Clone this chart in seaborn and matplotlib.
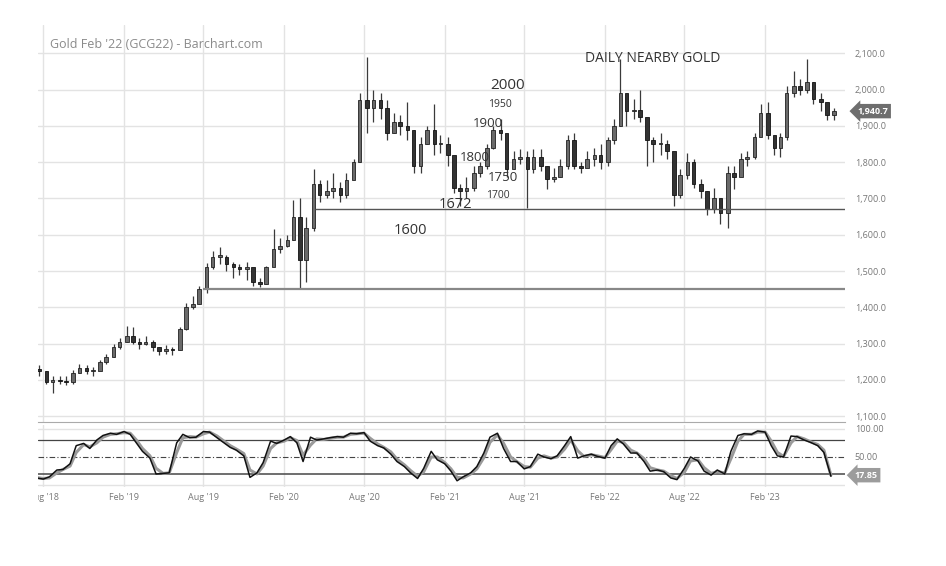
import matplotlib
matplotlib.use("Agg")
import matplotlib.pyplot as plt
import matplotlib.dates as mdates
import numpy as np
import pandas as pd
import seaborn as sns
from matplotlib.transforms import Bbox, TransformedBbox

# semi-monthly bars (1st / 15th of each month)
dates = pd.date_range("2018-07-15", "2023-07-01", freq="SMS")
first_open = 1230

close = [
    1225, 1195, 1200, 1198, 1195, 1220, 1232, 1225, 1225, 1248, 1262,
    1290, 1305, 1320, 1305, 1300, 1305, 1290, 1280, 1285, 1282, 1340, 1400,
    1410, 1450, 1510, 1540, 1540, 1520, 1510, 1505, 1510, 1470, 1465, 1510,
    1560, 1570, 1585, 1650, 1530, 1620, 1740, 1710, 1720, 1730, 1710, 1750,
    1800, 1970, 1950, 1970, 1950, 1880, 1910, 1900, 1890, 1790, 1850, 1890,
    1850, 1850, 1820, 1730, 1720, 1730, 1770, 1790, 1840, 1890, 1880, 1780,
    1810, 1815, 1780, 1815, 1790, 1755, 1760, 1790, 1860, 1790, 1785, 1810,
    1820, 1800, 1860, 1900, 1990, 1940, 1945, 1925, 1860, 1850, 1850, 1830,
    1710, 1765, 1800, 1740, 1720, 1670, 1700, 1660, 1770, 1760, 1810, 1815,
    1870, 1935, 1875, 1840, 1870, 1990, 2010, 2000, 2020, 1975, 1965, 1930,
    1940.7,
]
high = [
    1240, 1225, 1212, 1212, 1210, 1228, 1245, 1242, 1235, 1255, 1272,
    1300, 1315, 1348, 1345, 1315, 1320, 1310, 1292, 1295, 1292, 1345, 1412,
    1430, 1460, 1522, 1555, 1565, 1545, 1525, 1520, 1525, 1485, 1480, 1515,
    1615, 1590, 1600, 1695, 1700, 1650, 1780, 1750, 1750, 1770, 1745, 1770,
    1810, 1990, 2090, 2000, 1990, 1970, 1935, 1930, 1965, 1890, 1870, 1900,
    1960, 1875, 1870, 1800, 1740, 1760, 1790, 1800, 1850, 1900, 1920, 1870,
    1830, 1835, 1830, 1835, 1835, 1790, 1785, 1810, 1875, 1880, 1800, 1830,
    1840, 1850, 1870, 1920, 2085, 1980, 1975, 2000, 1920, 1870, 1880, 1860,
    1815, 1780, 1825, 1810, 1755, 1720, 1730, 1690, 1790, 1790, 1825, 1830,
    1880, 1960, 1965, 1860, 1880, 2010, 2050, 2030, 2085, 2020, 1990, 1960,
    1948,
]
low = [
    1212, 1190, 1165, 1190, 1185, 1190, 1218, 1215, 1210, 1235, 1245,
    1262, 1285, 1305, 1298, 1285, 1295, 1280, 1270, 1272, 1270, 1282, 1338,
    1395, 1410, 1440, 1505, 1520, 1500, 1480, 1490, 1475, 1460, 1455, 1465,
    1515, 1550, 1565, 1585, 1450, 1470, 1610, 1690, 1700, 1700, 1690, 1700,
    1770, 1800, 1880, 1910, 1920, 1860, 1880, 1875, 1860, 1770, 1770, 1850,
    1820, 1825, 1790, 1715, 1680, 1700, 1720, 1760, 1780, 1835, 1860, 1760,
    1780, 1795, 1675, 1770, 1775, 1725, 1745, 1760, 1780, 1780, 1770, 1790,
    1790, 1780, 1790, 1850, 1900, 1900, 1920, 1910, 1790, 1800, 1820, 1810,
    1680, 1700, 1755, 1730, 1700, 1655, 1660, 1630, 1620, 1725, 1770, 1790,
    1810, 1900, 1865, 1820, 1815, 1860, 1980, 1985, 1990, 1960, 1940, 1915,
    1915,
]

# stochastic %K (black) and %D (grey)
stoch_k = [
    13, 11, 15, 27, 28, 38, 70, 74, 65, 80, 88,
    92, 90, 95, 90, 75, 60, 48, 20, 21, 22, 75, 90,
    84, 85, 95, 94, 84, 76, 67, 62, 52, 14, 22, 40,
    78, 74, 80, 86, 75, 42, 85, 80, 82, 84, 86, 85,
    92, 91, 93, 78, 70, 66, 55, 42, 33, 22, 12, 30,
    60, 45, 38, 25, 8, 15, 22, 33, 57, 85, 92, 65,
    42, 42, 29, 33, 55, 50, 47, 52, 70, 86, 48, 52,
    55, 51, 48, 70, 82, 73, 57, 57, 42, 25, 27, 24,
    13, 10, 30, 50, 43, 25, 18, 27, 20, 60, 88, 91,
    90, 96, 94, 70, 52, 50, 87, 86, 80, 76, 70, 58,
    16,
]
stoch_d = [
    14, 12, 13, 22, 28, 34, 58, 72, 68, 75, 85,
    90, 91, 93, 92, 80, 65, 52, 30, 21, 22, 58, 84,
    86, 85, 91, 94, 87, 79, 70, 64, 56, 27, 20, 34,
    65, 75, 78, 84, 79, 53, 71, 82, 81, 83, 85, 85,
    90, 91, 92, 83, 73, 67, 59, 46, 36, 26, 16, 24,
    50, 50, 40, 29, 14, 13, 20, 29, 49, 76, 89, 74,
    50, 42, 33, 32, 48, 52, 48, 50, 64, 80, 61, 51,
    54, 52, 49, 63, 78, 76, 62, 57, 47, 31, 27, 25,
    17, 12, 23, 43, 45, 31, 21, 24, 22, 47, 78, 90,
    90, 94, 94, 78, 58, 51, 75, 86, 82, 77, 72, 62,
    17.85,
]

tick_dates = ["2018-08-01", "2019-02-01", "2019-08-01", "2020-02-01", "2020-08-01",
              "2021-02-01", "2021-08-01", "2022-02-01", "2022-08-01", "2023-02-01"]
tick_labels = ["Aug '18", "Feb '19", "Aug '19", "Feb '20", "Aug '20",
               "Feb '21", "Aug '21", "Feb '22", "Aug '22", "Feb '23"]
price_ticks = list(range(1100, 2101, 100))

# support lines and chart notes
support_lines = [(1672, "2020-04-12", "#555555", 1.0), (1450, "2019-08-01", "#888888", 1.6)]
notes = [
    ("DAILY NEARBY GOLD", "2021-12-18", 2087, 10),
    ("2000", "2021-05-16", 2010, 11),
    ("1950", "2021-05-11", 1960, 7.5),
    ("1900", "2021-04-05", 1907, 9.5),
    ("1800", "2021-03-08", 1814, 9.5),
    ("1750", "2021-05-11", 1758, 9.5),
    ("1700", "2021-05-05", 1709, 7.5),
    ("1672", "2021-01-17", 1684, 10.5),
    ("1600", "2020-10-07", 1612, 10.5),
]

sns.set_style("white")
plt.rcParams["font.family"] = ["Open Sans", "DejaVu Sans"]

df = pd.DataFrame({"date": dates, "close": close, "high": high, "low": low,
                   "k": stoch_k, "d": stoch_d})
df["open"] = [first_open] + close[:-1]

fig = plt.figure(figsize=(9.46, 5.66), dpi=100)
ax = fig.add_axes([0.0402, 0.2544, 0.853, 0.7014])
ax2 = fig.add_axes([0.0402, 0.1396, 0.853, 0.1095], sharex=ax)

xmin = mdates.date2num(pd.Timestamp("2018-07-20"))
xmax = mdates.date2num(pd.Timestamp("2023-08-02"))
grid_c = "#e3e3e3"
for a in (ax, ax2):
    for d in tick_dates:
        a.axvline(mdates.date2num(pd.Timestamp(d)), color=grid_c, lw=1, zorder=0)
for p in price_ticks:
    ax.axhline(p, color=grid_c, lw=1, zorder=0)

# candles, centred in their half-month
xc = mdates.date2num(df["date"] + pd.Timedelta(days=7))
up = df["close"] >= df["open"]
ax.vlines(xc, df["low"], df["high"], color="#3a3a3a", lw=0.9, zorder=2)
body_lo = np.minimum(df["open"], df["close"])
body_h = np.maximum(np.abs(df["close"] - df["open"]), 3)
ax.bar(xc[up], body_h[up], bottom=body_lo[up], width=8, color="#6a6a6a",
       edgecolor="#222222", linewidth=0.6, zorder=3)
ax.bar(xc[~up], body_h[~up], bottom=body_lo[~up], width=8, color="#333333",
       edgecolor="#111111", linewidth=0.6, zorder=3)

for level, start, col, lw in support_lines:
    ax.hlines(level, mdates.date2num(pd.Timestamp(start)), xmax, color=col, lw=lw, zorder=4)

for txt, d, y, fs in notes:
    ax.text(mdates.date2num(pd.Timestamp(d)), y, txt, fontsize=fs, color="#333333",
            va="center", ha="left", zorder=5)

ax.set_xlim(xmin, xmax)
ax.set_ylim(1084, 2178)
ax.yaxis.tick_right()
ax.set_yticks(price_ticks)
ax.set_yticklabels([f"{p:,.1f}" for p in price_ticks])
ax.tick_params(axis="y", length=0, pad=7, labelsize=6.5, labelcolor="#777777")
ax.tick_params(axis="x", length=0, labelbottom=False)
for s in ax.spines.values():
    s.set_visible(False)
ax.spines["bottom"].set_visible(True)
ax.spines["bottom"].set_color("#aaaaaa")
ax.annotate(f"{close[-1]:,.1f}", xy=(1.0, close[-1]), xycoords=("axes fraction", "data"),
            xytext=(9, 0), textcoords="offset points", ha="left", va="center",
            fontsize=6.5, fontweight="bold", color="white", annotation_clip=False,
            bbox=dict(boxstyle="larrow,pad=0.3", fc="#6e6e6e", ec="none"))
fig.text(50 / 946, 1 - 45 / 566, "Gold Feb '22 (GCG22) - Barchart.com", fontsize=9,
         color="#8a8a8a", va="center", ha="left")

# stochastic panel
for lvl, ls, col, lw in [(100, "-", grid_c, 1), (0, "-", grid_c, 1), (80, "-", "#444444", 0.9),
                         (50, (0, (5, 2, 1, 2)), "#444444", 0.8), (20, "-", "#555555", 1.2)]:
    ax2.axhline(lvl, color=col, ls=ls, lw=lw, zorder=1)
sns.lineplot(data=df, x="date", y="d", ax=ax2, color="#9a9a9a", lw=2.2, zorder=3)
sns.lineplot(data=df, x="date", y="k", ax=ax2, color="#111111", lw=1.1, zorder=4)
ax2.set_xlim(xmin, xmax)
ax2.set_ylim(-3, 106.5)
ax2.set_xlabel("")
ax2.set_ylabel("")
ax.set_xlabel("")
ax2.yaxis.tick_right()
ax2.set_yticks([50, 100])
ax2.set_yticklabels(["50.00", "100.00"])
ax2.tick_params(axis="y", length=0, pad=7, labelsize=6.5, labelcolor="#777777")
ax2.set_xticks([mdates.date2num(pd.Timestamp(d)) for d in tick_dates])
ax2.set_xticklabels(tick_labels)
ax2.tick_params(axis="x", length=0, pad=4, labelsize=6.5, labelcolor="#777777")
for s in ax2.spines.values():
    s.set_visible(False)
clip = TransformedBbox(Bbox([[0.0402, 0], [1, 1]]), fig.transFigure)
for lab in ax2.get_xticklabels():
    lab.set_clip_box(clip)
    lab.set_clip_on(True)
ax2.annotate(f"{stoch_d[-1]:.2f}", xy=(1.0, stoch_d[-1]), xycoords=("axes fraction", "data"),
             xytext=(7, 0), textcoords="offset points", ha="left", va="center",
             fontsize=6.5, fontweight="bold", color="white", annotation_clip=False,
             bbox=dict(boxstyle="larrow,pad=0.3", fc="#9c9c9c", ec="none"))

fig.savefig("out.png", dpi=100)
